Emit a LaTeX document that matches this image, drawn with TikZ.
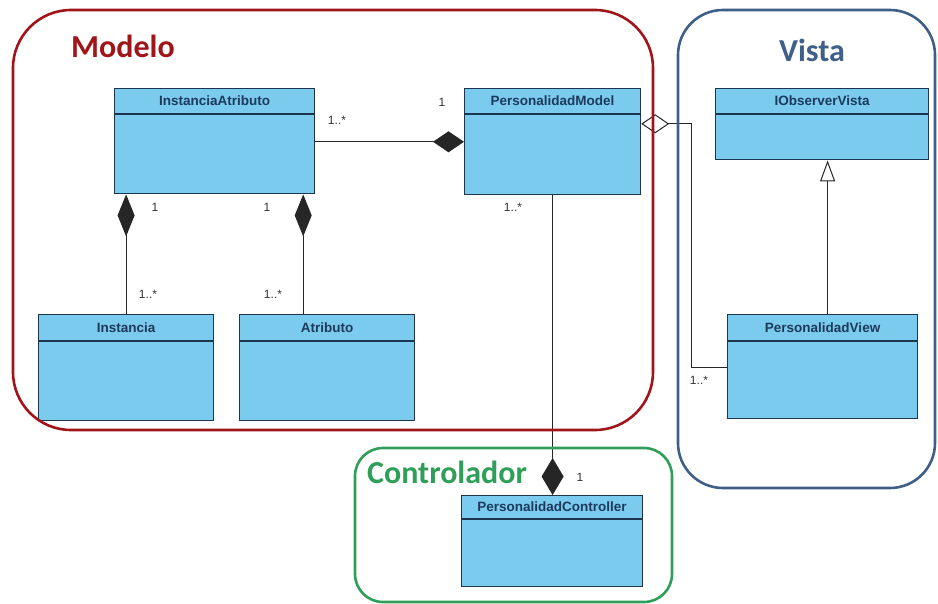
\documentclass[tikz,border=0pt]{standalone}
\usepackage{fontspec}
\setmainfont{Liberation Sans}
\newfontfamily\titlefont{Carlito}
\usetikzlibrary{arrows.meta}

\definecolor{classfill}{HTML}{7BCBEF}
\definecolor{classline}{HTML}{1E3550}
\definecolor{classtext}{HTML}{1D3A5C}
\definecolor{modelred}{HTML}{A01519}
\definecolor{vistablue}{HTML}{3F5E88}
\definecolor{ctrlgreen}{HTML}{2F9E58}

\begin{document}
\begin{tikzpicture}[x = 1pt, y = -1pt,
                      classhead/.style = {draw = classline, fill = classfill, line width = 1.2pt,
                                          minimum height = 25pt, inner sep = 0pt, anchor = north west,
                                          text = classtext, font = \bfseries\fontsize{13.5}{13.5}\selectfont},
                      classbody/.style = {draw = classline, fill = classfill, line width = 1.2pt,
                                          inner sep = 0pt, anchor = north west},
                      mult/.style = {font = \fontsize{12}{12}\selectfont, text = black!80},
                      link/.style = {line width = 1pt, black!85},
                      frame/.style = {line width = 2.6pt},
                      frametitle/.style = {font = \titlefont\bfseries\fontsize{32}{32}\selectfont}]
    \useasboundingbox (0, 0) rectangle (938, 604);

    % classes: header with the name, empty body below
    \node [classhead, minimum width = 200pt] (iaH) at (114, 88) {InstanciaAtributo};
    \node [classbody, minimum width = 200pt, minimum height = 79pt] (ia) at (iaH.south west) {};
    \node [classhead, minimum width = 176pt] (pmH) at (464, 88) {PersonalidadModel};
    \node [classbody, minimum width = 176pt, minimum height = 80pt] (pm) at (pmH.south west) {};
    \node [classhead, minimum width = 213pt] (obsH) at (715, 88) {IObserverVista};
    \node [classbody, minimum width = 213pt, minimum height = 45pt] (obs) at (obsH.south west) {};
    \node [classhead, minimum width = 175pt, minimum height = 26pt] (instH) at (38, 314) {Instancia};
    \node [classbody, minimum width = 175pt, minimum height = 79pt] (inst) at (instH.south west) {};
    \node [classhead, minimum width = 175pt, minimum height = 26pt] (atrH) at (239, 314) {Atributo};
    \node [classbody, minimum width = 175pt, minimum height = 79pt] (atr) at (atrH.south west) {};
    \node [classhead, minimum width = 190pt, minimum height = 26pt] (viewH) at (727, 314) {PersonalidadView};
    \node [classbody, minimum width = 190pt, minimum height = 77pt] (view) at (viewH.south west) {};
    \node [classhead, minimum width = 181pt, minimum height = 23pt] (ctrlH) at (461, 495) {PersonalidadController};
    \node [classbody, minimum width = 181pt, minimum height = 67pt] (ctrl) at (ctrlH.south west) {};

    % relations
    \draw [link, -{Diamond[length = 31pt, width = 21pt]}] ([yshift = 12.5pt]ia.east) -- ([yshift = 12.5pt]ia.east -| pm.west);
    \draw [link, {Diamond[length = 42pt, width = 17pt]}-] (ia.south -| instH.north) -- (instH.north);
    \draw [link, {Diamond[length = 42pt, width = 17pt]}-] ([xshift = -12pt]ia.south east) -- ([xshift = -12pt]ia.south east |- atrH.north);
    \draw [link, -{Diamond[length = 37pt, width = 22pt]}] (pm.south) -- (pm.south |- ctrlH.north);
    \draw [link, {Diamond[open, fill = white, length = 28pt, width = 19pt]}-] ([yshift = 31pt]pm.east) -- ++(50, 0) |- ([yshift = 12.5pt]view.west);
    \draw [link, -{Triangle[open, fill = white, length = 21pt, width = 15pt]}] ([xshift = 5pt]viewH.north) -- ([xshift = 5pt]viewH.north |- obs.south);

    % multiplicities
    \node [mult] (m1) at (337, 120) {1..*};
    \node [mult] (m2) at (442, 102) {1};
    \node [mult] (m3) at (155, 207) {1};
    \node [mult] (m4) at (148, 294) {1..*};
    \node [mult] (m5) at (267, 207) {1};
    \node [mult] (m6) at (273, 294) {1..*};
    \node [mult] (m7) at (513, 207) {1..*};
    \node [mult] (m8) at (580, 477) {1};
    \node [mult] (m9) at (699, 380) {1..*};

    % packages
    \draw [frame, modelred, rounded corners = 58pt] (13, 10) rectangle (653, 430);
    \draw [frame, vistablue, rounded corners = 45pt] (678, 10) rectangle (935, 488);
    \draw [frame, ctrlgreen, rounded corners = 28pt] (355, 448) rectangle (672, 602);
    \node [frametitle, text = modelred] (modelo) at (123, 46) {Modelo};
    \node [frametitle, text = vistablue] (vista) at (812, 50) {Vista};
    \node [frametitle, text = ctrlgreen] (controlador) at (447, 472) {Controlador};
\end{tikzpicture}
\end{document}
